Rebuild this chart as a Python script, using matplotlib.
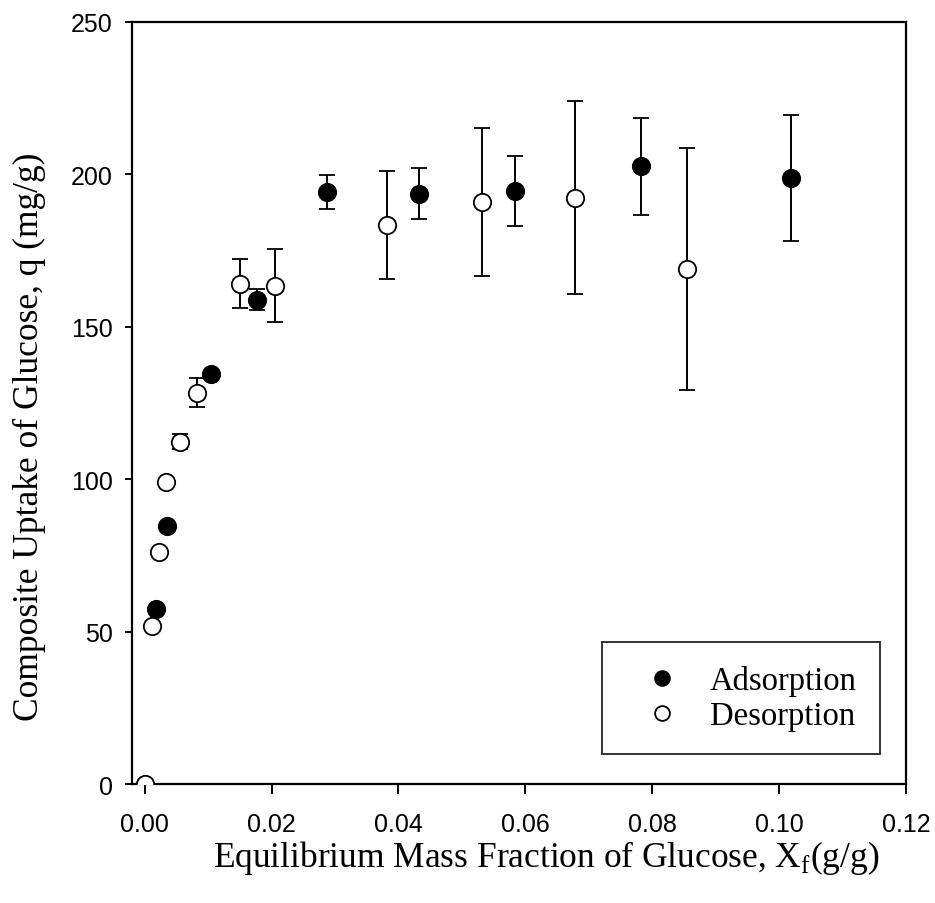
import matplotlib
matplotlib.use("Agg")
import matplotlib.pyplot as plt

# Adsorption isotherm data (equilibrium mass fraction, uptake, std. dev.)
ads_x = [0.0018, 0.0035, 0.0104, 0.0177, 0.0288, 0.0432, 0.0583, 0.0783, 0.1019]
ads_q = [57.5, 84.7, 134.5, 158.9, 194.3, 193.6, 194.6, 202.6, 198.9]
ads_err = [0.0, 0.0, 0.0, 3.4, 5.6, 8.4, 11.5, 15.9, 20.7]

# Desorption isotherm data
des_x = [0.0, 0.0012, 0.0023, 0.0033, 0.0055, 0.0082, 0.0150, 0.0205, 0.0382,
         0.0531, 0.0679, 0.0855]
des_q = [0.0, 51.9, 76.0, 99.0, 112.3, 128.4, 164.2, 163.5, 183.4,
         191.0, 192.4, 169.0]
des_err = [0.0, 0.0, 0.0, 0.0, 2.5, 4.7, 8.0, 12.0, 17.6,
           24.2, 31.6, 39.6]

x_ticks = [0.00, 0.02, 0.04, 0.06, 0.08, 0.10, 0.12]
x_tick_labels = ["0.00", "0.02", "0.04", "0.06", "0.08", "0.10", "0.12"]
y_ticks = [0, 50, 100, 150, 200, 250]

fig = plt.figure(figsize=(9.35, 9.04), dpi=100)
ax = fig.add_axes([0.1412, 0.1316, 0.8278, 0.843])

err_kw = dict(ecolor="black", elinewidth=1.4, capsize=6, capthick=1.4, ls="none")

ax.errorbar(ads_x, ads_q, yerr=ads_err, fmt="o", ms=12.5, mfc="black",
            mec="black", mew=1.3, zorder=3, label="Adsorption", **err_kw)
ax.errorbar(des_x, des_q, yerr=des_err, fmt="o", ms=12.5, mfc="white",
            mec="black", mew=1.3, zorder=3, label="Desorption", **err_kw)

ax.set_xlim(-0.002, 0.12)
ax.set_ylim(0, 250)
ax.set_xticks(x_ticks)
ax.set_xticklabels(x_tick_labels)
ax.set_yticks(y_ticks)

for s in ax.spines.values():
    s.set_linewidth(1.6)

ax.tick_params(axis="x", direction="out", length=7, width=1.4, pad=13)
ax.tick_params(axis="y", direction="out", length=5, width=1.4, pad=9)
for lbl in ax.get_xticklabels() + ax.get_yticklabels():
    lbl.set_fontfamily("Liberation Sans")
    lbl.set_fontsize(18)

serif = "Liberation Serif"
ax.set_xlabel(r"Equilibrium Mass Fraction of Glucose, X$_\mathregular{f}$(g/g)",
              fontfamily=serif, fontsize=25.5, va="center")
ax.xaxis.set_label_coords(0.535, -0.096)
ax.set_ylabel("Composite Uptake of Glucose, q (mg/g)",
              fontfamily=serif, fontsize=25.5, va="center")
ax.yaxis.set_label_coords(-0.132, 0.457)

handles, labels = ax.get_legend_handles_labels()
handles = [h[0] for h in handles]
leg = ax.legend(handles, labels, loc="lower right", bbox_to_anchor=(0.966, 0.039),
                borderaxespad=0,
                prop={"family": serif, "size": 23.5}, frameon=True, fancybox=False,
                edgecolor="black", handlelength=2.28, handletextpad=0.33,
                borderpad=0.7, labelspacing=0.15, markerscale=0.85)
leg.get_frame().set_linewidth(1.4)

fig.savefig("out.png", dpi=100, facecolor="white")
